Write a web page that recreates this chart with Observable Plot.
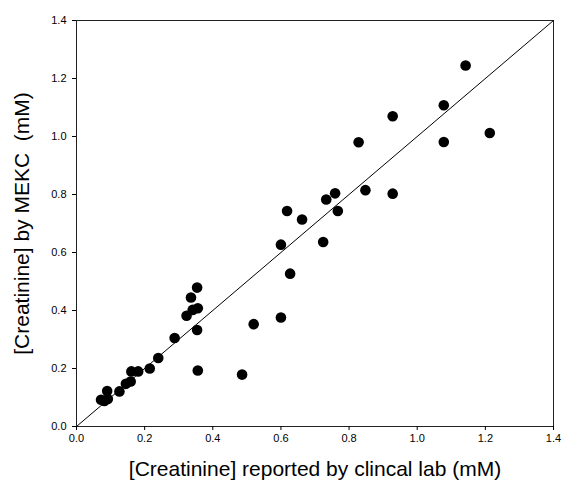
<!DOCTYPE html>
<html>
<head>
<meta charset="utf-8">
<script src="https://cdn.jsdelivr.net/npm/d3@7"></script>
<script src="https://cdn.jsdelivr.net/npm/@observablehq/plot@0.6"></script>
<style>
  html, body { margin: 0; padding: 0; background: #fff; }
</style>
</head>
<body>
<div id="chart"></div>
<script>
// Creatinine reported by clinical lab (mM)
const labValues = [
  0.072, 0.082, 0.092, 0.090, 0.126, 0.145, 0.159, 0.161, 0.181, 0.215,
  0.240, 0.288, 0.323, 0.341, 0.356, 0.336, 0.354, 0.354, 0.356,
  0.486, 0.520, 0.600, 0.600, 0.618, 0.627, 0.662, 0.724, 0.733, 0.759, 0.767,
  0.828, 0.848, 0.928, 0.928, 1.078, 1.078, 1.142, 1.213
];
// Creatinine measured by MEKC (mM)
const mekcValues = [
  0.092, 0.088, 0.095, 0.122, 0.121, 0.147, 0.155, 0.190, 0.190, 0.200,
  0.236, 0.305, 0.382, 0.402, 0.408, 0.445, 0.479, 0.333, 0.193,
  0.179, 0.353, 0.376, 0.627, 0.743, 0.527, 0.714, 0.636, 0.783, 0.804, 0.743,
  0.980, 0.815, 1.070, 0.803, 1.108, 0.981, 1.245, 1.012
];
// Line of identity endpoints
const identityX = [0, 1.4];
const tickValues = [0, 0.2, 0.4, 0.6, 0.8, 1.0, 1.2, 1.4];
const xLabel = "[Creatinine] reported by clincal lab (mM)";
const yLabel = "[Creatinine] by MEKC\u00a0 (mM)";

const points = labValues.map((x, i) => ({x, y: mekcValues[i]}));
const identity = identityX.map(v => ({x: v, y: v}));
const fmt = d3.format(".1f");

const chart = Plot.plot({
  width: 563,
  height: 483,
  marginLeft: 76,
  marginRight: 10,
  marginTop: 20,
  marginBottom: 57,
  style: {fontFamily: "'Liberation Sans', Arial, sans-serif", color: "#000", background: "#fff"},
  x: {domain: [0, 1.4]},
  y: {domain: [0, 1.4]},
  marks: [
    Plot.frame({stroke: "#222", strokeWidth: 1}),
    Plot.axisX({ticks: tickValues, tickFormat: fmt, tickSize: 4, tickPadding: 4, fontSize: 11,
      label: xLabel, labelAnchor: "center", labelArrow: "none", labelOffset: 49}),
    Plot.axisY({ticks: tickValues, tickFormat: fmt, tickSize: 4, tickPadding: 6, fontSize: 11,
      label: yLabel, labelAnchor: "center", labelArrow: "none", labelOffset: 62}),
    Plot.line(identity, {x: "x", y: "y", stroke: "#000", strokeWidth: 1}),
    Plot.dot(points, {x: "x", y: "y", r: 5.3, fill: "#000", stroke: "none"})
  ]
});
// Enlarge axis title fonts
chart.querySelectorAll("[aria-label='x-axis label'] text, [aria-label='y-axis label'] text").forEach(t => t.setAttribute("font-size", "21"));
document.getElementById("chart").appendChild(chart);
</script>
</body>
</html>
